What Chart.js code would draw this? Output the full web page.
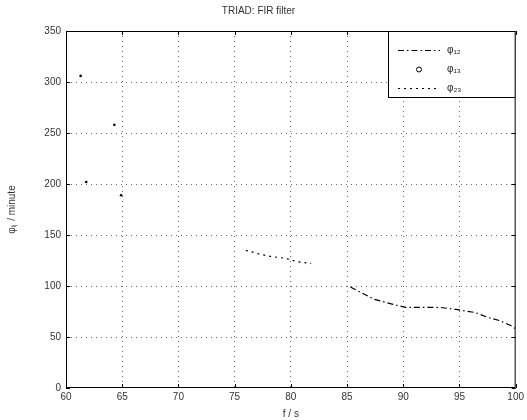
<!DOCTYPE html>
<html>
<head>
<meta charset="utf-8">
<script src="https://cdn.jsdelivr.net/npm/chart.js@4"></script>
<style>
  html, body { margin: 0; padding: 0; background: #fff; }
  #wrap { width: 527px; height: 420px; }
</style>
</head>
<body>
<div id="wrap"><canvas id="fir"></canvas></div>
<script>
// values
const seriesNames = ["φ₁₂", "φ₁₃", "φ₂₃"];

// dash-dot curve, right part
const curveF = [85.3, 87.4, 89.1, 90.2, 92.2, 93.3, 94.7, 96.4, 97.6, 98.6, 99.6, 100];
const curvePhi = [99, 87, 82, 79, 79, 79, 77, 74, 69, 66, 61, 58];

// loose points, top left
const scatterF = [61.3, 64.3, 61.8, 64.9];
const scatterPhi = [306, 258, 202, 189];

// dashed piece in the middle
const earlyF = [76.0, 77.3, 78.2, 79.6, 80.5, 81.8];
const earlyPhi = [135, 131, 129, 127, 124, 122];

const xMin = 60, xMax = 100, xStep = 5;
const yMin = 0, yMax = 350, yStep = 50;

function toPoints(xs, ys) {
    return xs.map((x, i) => ({ x: x, y: ys[i] }));
}

const FONT = "'Liberation Sans', Arial, sans-serif";

// box around the axes, inward ticks and a boxed legend (matlab look)
const matlabFrame = {
    id: "matlabFrame",
    afterDraw(chart) {
        const { ctx, chartArea: a, scales } = chart;
        ctx.save();
        ctx.strokeStyle = "#000";
        ctx.lineWidth = 1;
        ctx.setLineDash([]);
        ctx.strokeRect(a.left + 0.5, a.top + 0.5, a.right - a.left - 1, a.bottom - a.top - 1);

        const t = 4;
        ctx.beginPath();
        for (let v = xMin; v <= xMax; v += xStep) {
            const px = Math.round(scales.x.getPixelForValue(v)) + 0.5;
            ctx.moveTo(px, a.bottom); ctx.lineTo(px, a.bottom - t);
            ctx.moveTo(px, a.top); ctx.lineTo(px, a.top + t);
        }
        for (let v = yMin; v <= yMax; v += yStep) {
            const py = Math.round(scales.y.getPixelForValue(v)) + 0.5;
            ctx.moveTo(a.left, py); ctx.lineTo(a.left + t, py);
            ctx.moveTo(a.right, py); ctx.lineTo(a.right - t, py);
        }
        ctx.stroke();

        // legend box in the top right corner
        const lx = 388, ly = a.top, lw = a.right - lx, lh = 67;
        ctx.fillStyle = "#fff";
        ctx.fillRect(lx, ly, lw, lh);
        ctx.strokeRect(lx + 0.5, ly + 0.5, lw - 1, lh - 1);

        const rows = [ly + 19, ly + 38, ly + 57];
        chart.data.datasets.forEach((ds, i) => {
            const ry = rows[i] + 0.5;
            ctx.strokeStyle = ds.borderColor;
            ctx.fillStyle = ds.borderColor;
            if (ds.showLine) {
                ctx.lineWidth = ds.borderWidth;
                ctx.setLineDash(ds.borderDash || []);
                ctx.beginPath();
                ctx.moveTo(398, ry); ctx.lineTo(440, ry);
                ctx.stroke();
            } else {
                ctx.setLineDash([]);
                ctx.lineWidth = 1;
                ctx.beginPath();
                ctx.arc(419, ry, 2.5, 0, Math.PI * 2);
                ctx.stroke();
            }
            ctx.setLineDash([]);
            ctx.fillStyle = "#222";
            ctx.font = "10px " + FONT;
            ctx.textBaseline = "middle";
            ctx.fillText(ds.label, 447, ry);
        });
        ctx.restore();
    }
};

function gridColor(c) {
    const v = c.tick.value;
    const isEdge = c.scale.axis === "x" ? (v === xMin || v === xMax) : (v === yMin || v === yMax);
    return isEdge ? "rgba(0,0,0,0)" : "rgba(0,0,0,0.6)";
}

new Chart(document.getElementById("fir"), {
    type: "scatter",
    data: {
        datasets: [
            {
                label: seriesNames[0],
                data: toPoints(curveF, curvePhi),
                showLine: true,
                borderColor: "#000",
                borderWidth: 1.2,
                borderDash: [6, 3, 1.5, 3],
                pointRadius: 0,
            },
            {
                label: seriesNames[1],
                data: toPoints(scatterF, scatterPhi),
                showLine: false,
                borderColor: "#000",
                backgroundColor: "#000",
                pointRadius: 1.3,
                pointBorderWidth: 0,
            },
            {
                label: seriesNames[2],
                data: toPoints(earlyF, earlyPhi),
                showLine: true,
                borderColor: "#000",
                borderWidth: 1.2,
                borderDash: [2, 4],
                pointRadius: 0,
            },
        ],
    },
    options: {
        responsive: true,
        maintainAspectRatio: false,
        animation: false,
        layout: { padding: { left: 0, right: 10, top: 0, bottom: 0 } },
        plugins: {
            legend: { display: false },
            tooltip: { enabled: false },
            title: {
                display: true,
                text: "TRIAD: FIR filter",
                color: "#333",
                font: { family: FONT, size: 10, weight: "normal" },
                padding: { top: 5, bottom: 14 },
            },
        },
        scales: {
            x: {
                type: "linear",
                min: xMin,
                max: xMax,
                afterFit: (s) => { s.height = 32; },
                ticks: {
                    stepSize: xStep,
                    color: "#333",
                    padding: 3,
                    font: { family: FONT, size: 10 },
                },
                grid: {
                    color: gridColor,
                    drawTicks: false,
                },
                border: { display: false, dash: [1, 4] },
                title: {
                    display: true,
                    text: "f / s",
                    color: "#333",
                    padding: { top: 1, bottom: 0 },
                    font: { family: FONT, size: 10 },
                },
            },
            y: {
                type: "linear",
                min: yMin,
                max: yMax,
                afterFit: (s) => { s.width = 66; },
                ticks: {
                    stepSize: yStep,
                    color: "#333",
                    padding: 5,
                    font: { family: FONT, size: 10 },
                },
                grid: {
                    color: gridColor,
                    drawTicks: false,
                },
                border: { display: false, dash: [1, 4] },
                title: {
                    display: true,
                    text: "φᵢⱼ / minute",
                    color: "#333",
                    padding: { top: 6, bottom: 0 },
                    font: { family: FONT, size: 10 },
                },
            },
        },
    },
    plugins: [matlabFrame],
});
</script>
</body>
</html>
